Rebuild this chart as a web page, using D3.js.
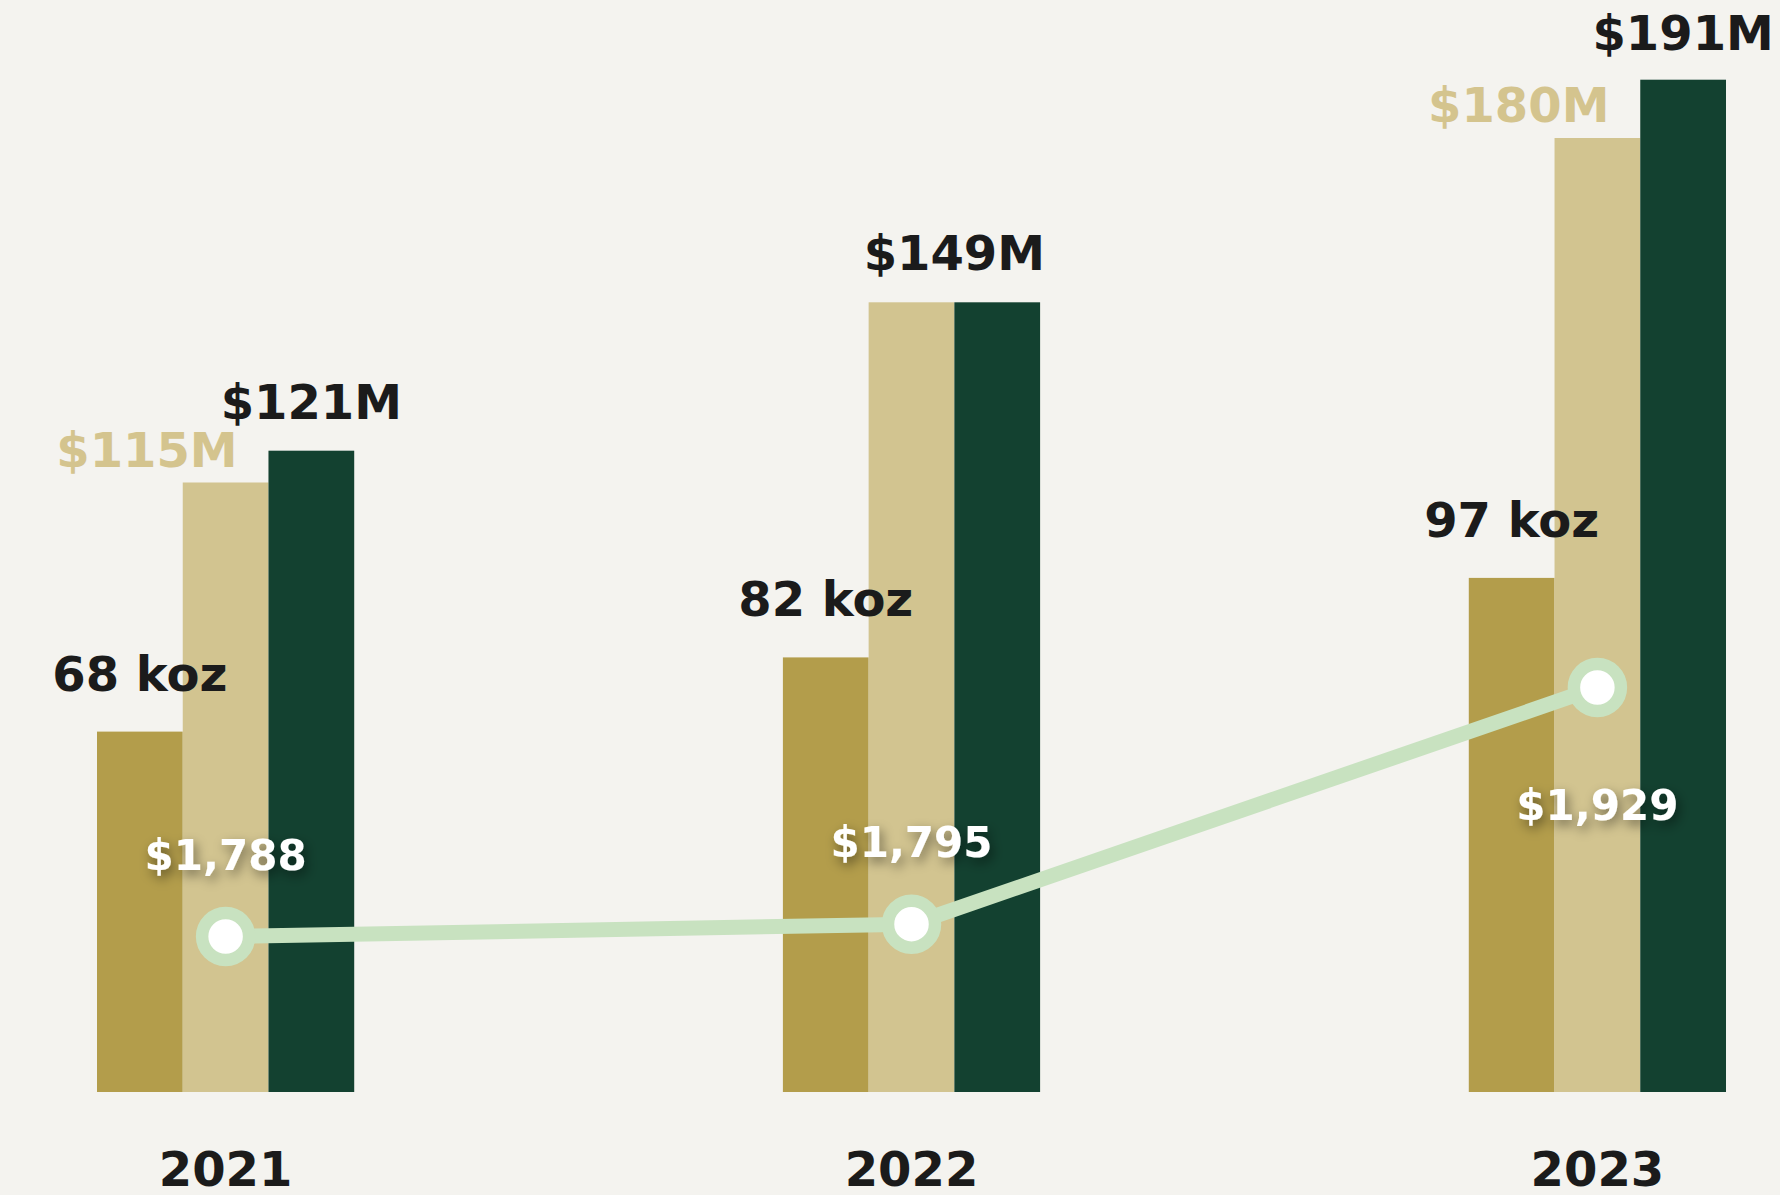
<!DOCTYPE html>
<html>
<head>
<meta charset="utf-8">
<script src="https://cdn.jsdelivr.net/npm/d3@7"></script>
<style>
  html, body { margin: 0; padding: 0; background: #f4f3ef; }
  svg { display: block; font-family: "DejaVu Sans", sans-serif; font-weight: bold; }
</style>
</head>
<body>
<div id="container"></div>
<script>
// data
var years = ["2021", "2022", "2023"];
var ounces = [68, 82, 97];          // koz, gold bars
var valueA = [115, 149, 180];       // $M, tan bars
var valueB = [121, 149, 191];       // $M, dark green bars
var price = [1788, 1795, 1929];     // $/oz, line

var width = 1780,
    height = 1195;

var svg = d3.select("#container").append("svg")
    .attr("width", width)
    .attr("height", height);

svg.append("rect")
    .attr("width", width)
    .attr("height", height)
    .attr("fill", "#f4f3ef");

// soft shadow behind the white price labels
var shadow = svg.append("defs").append("filter")
    .attr("id", "shadow")
    .attr("x", "-30%").attr("y", "-60%")
    .attr("width", "160%").attr("height", "220%");
shadow.append("feDropShadow")
    .attr("dx", 3).attr("dy", 5)
    .attr("stdDeviation", 6)
    .attr("flood-color", "#000")
    .attr("flood-opacity", 0.45);

var baseY = 1092;

var x = d3.scaleBand()
    .domain(years)
    .range([97, 1726])
    .paddingInner(0.625)
    .paddingOuter(0);

var series = ["oz", "a", "b"];
var xs = d3.scaleBand()
    .domain(series)
    .range([0, x.bandwidth()]);

var y = d3.scaleLinear().domain([0, 200]).range([baseY, 32]);
var yPrice = d3.scaleLinear().domain([1700, 2300]).range([baseY, 32]);

var colors = { oz: "#b39d4b", a: "#d2c490", b: "#134130" };

var rows = years.map(function(yr, i) {
  return { year: yr, oz: ounces[i], a: valueA[i], b: valueB[i], price: price[i] };
});

// bars
var groups = svg.selectAll("g.year")
    .data(rows)
    .enter()
    .append("g")
    .attr("class", "year")
    .attr("transform", function(d) { return "translate(" + x(d.year) + ",0)"; });

groups.selectAll("rect")
    .data(function(d) { return series.map(function(k) { return { key: k, value: d[k] }; }); })
    .enter()
    .append("rect")
    .attr("x", function(d) { return xs(d.key); })
    .attr("y", function(d) { return y(d.value); })
    .attr("width", xs.bandwidth())
    .attr("height", function(d) { return baseY - y(d.value); })
    .attr("fill", function(d) { return colors[d.key]; });

// koz labels over the gold bars
groups.append("text")
    .attr("x", xs("oz") + xs.bandwidth() / 2 )
    .attr("y", function(d) { return y(d.oz) - 41; })
    .attr("text-anchor", "middle")
    .attr("font-size", "48px")
    .attr("fill", "#1b1b1b")
    .text(function(d) { return d.oz + " koz"; });

// tan labels, skipped when both $ bars are equal
groups.filter(function(d) { return d.a !== d.b; })
  .append("text")
    .attr("x", xs("a") + xs.bandwidth() / 2 + 12)
    .attr("y", function(d) { return y(d.a) - 16; })
    .attr("text-anchor", "end")
    .attr("font-size", "48px")
    .attr("fill", "#d4c48e")
    .text(function(d) { return "$" + d.a + "M"; });

// dark labels over the green bars
groups.append("text")
    .attr("x", function(d) {
      return d.a === d.b ? xs("b") : xs("b") + xs.bandwidth() / 2;
    })
    .attr("y", function(d) { return Math.max(y(d.b) - 32, 50); })
    .attr("text-anchor", "middle")
    .attr("font-size", "48px")
    .attr("fill", "#1b1b1b")
    .text(function(d) { return "$" + d.b + "M"; });

// year axis
var xAxis = svg.append("g")
    .attr("transform", "translate(0," + baseY + ")")
    .call(d3.axisBottom(x).tickSize(0).tickPadding(0));
xAxis.select(".domain").remove();
xAxis.selectAll("text")
    .attr("dy", null)
    .attr("y", 94)
    .attr("font-family", "DejaVu Sans, sans-serif")
    .attr("font-weight", "bold")
    .attr("font-size", "48px")
    .attr("fill", "#1b1b1b");

// price line
var cx = function(d) { return x(d.year) + xs("a") + xs.bandwidth() / 2; };

var line = d3.line()
    .x(cx)
    .y(function(d) { return yPrice(d.price); });

svg.append("path")
    .datum(rows)
    .attr("d", line)
    .attr("fill", "none")
    .attr("stroke", "#c8e2c0")
    .attr("stroke-width", 15);

svg.selectAll("circle.pt")
    .data(rows)
    .enter()
    .append("circle")
    .attr("class", "pt")
    .attr("cx", cx)
    .attr("cy", function(d) { return yPrice(d.price); })
    .attr("r", 23.5)
    .attr("fill", "#fff")
    .attr("stroke", "#c8e2c0")
    .attr("stroke-width", 12.5);

// price labels, the last one sits below its point
svg.selectAll("text.price")
    .data(rows)
    .enter()
    .append("text")
    .attr("class", "price")
    .attr("x", cx)
    .attr("y", function(d, i) {
      return i === rows.length - 1 ? yPrice(d.price) + 133 : yPrice(d.price) - 67;
    })
    .attr("text-anchor", "middle")
    .attr("font-size", "42px")
    .attr("fill", "#fff")
    .attr("filter", "url(#shadow)")
    .text(function(d) { return "$" + d3.format(",")(d.price); });
</script>
</body>
</html>
